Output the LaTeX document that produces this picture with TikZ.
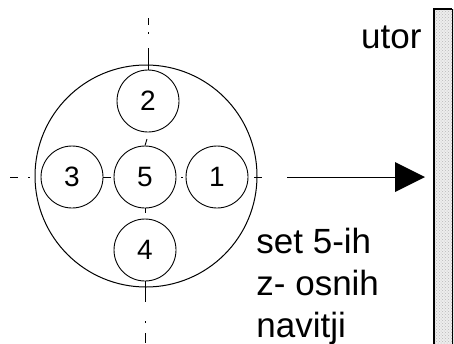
\documentclass[tikz,border=0pt]{standalone}
\usepackage{fontspec}
\setmainfont{Liberation Sans}
\usetikzlibrary{patterns}
\begin{document}
\begin{tikzpicture}[x=1pt,y=-1pt,line width=0.9pt,
  conductor/.style={circle,draw,minimum size=62pt,inner sep=0pt,
    font=\fontsize{28}{32}\selectfont},
  bundle/.style={circle,draw,line width=1pt,minimum size=222pt,inner sep=0pt},
  axisseg/.style={line width=0.9pt},
  lbl/.style={font=\fontsize{35}{42}\selectfont,inner sep=0pt}]
\useasboundingbox (0,0) rectangle (454,343);

% outer bundle and the five conductors
\node[bundle] (big) at (146,176) {};
\node[conductor] (c2) at (148,101) {2};
\node[conductor] (c5) at (145,177) {5};
\node[conductor] (c3) at (72,177) {3};
\node[conductor] (c1) at (217,177) {1};
\node[conductor] (c4) at (145,250) {4};

% vertical centre line (dash-dot)
\draw[axisseg] (148,18) -- (148,25);
\draw[axisseg] (148,32) -- (148,34);
\draw[axisseg] (148,48) -- (c2.north);
\draw[axisseg] (147,139) -- (c5.north);
\draw[axisseg] (c5.south) -- (145,213);
\draw[axisseg] (c4.south) -- (145,302);
\draw[axisseg] (145,321) -- (145,323);
\draw[axisseg] (145,333) -- (145,343);

% horizontal centre line (dash-dot)
\draw[axisseg] (10,177) -- (18,177);
\draw[axisseg] (28,177) -- (30,177);
\draw[axisseg] (c3.east) -- (111,177);
\draw[axisseg] (181,177) -- (183,177);
\draw[axisseg] (c1.east) ++(6,0) -- (262,177);

% slot
\fill[gray!14] (433,9) rectangle (454,345);
\fill[pattern=crosshatch dots,pattern color=gray!55] (433,9) rectangle (454,345);
\draw[line width=1.8pt] (434,345) -- (434,9) -- (452,9);
\draw[line width=0.9pt] (452,9) -- (452,345);
\coordinate (slot) at (425,177);

% arrow towards the slot
\coordinate (arrowstart) at (287,177);
\draw (arrowstart) -- (396,177);
\fill (395,162) -- (slot) -- (395,192) -- cycle;

% labels
\node[lbl,anchor=base east] (utor) at (422,48) {utor};
\node[lbl,anchor=base west] (l1) at (256,253) {set 5-ih};
\node[lbl,anchor=base west] (l2) at (256,295) {z- osnih};
\node[lbl,anchor=base west] (l3) at (256,337) {navitji};
\end{tikzpicture}
\end{document}
